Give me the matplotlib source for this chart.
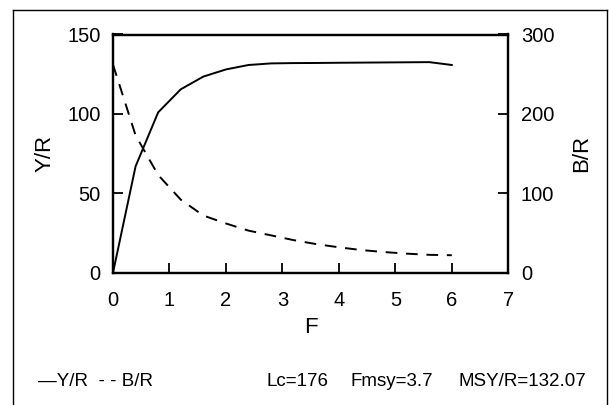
import matplotlib
matplotlib.use("Agg")
import matplotlib.pyplot as plt
from matplotlib.lines import Line2D

plt.rcParams['font.family'] = ['Liberation Sans', 'DejaVu Sans']

F = [0.0, 0.4, 0.8, 1.2, 1.6, 2.0, 2.4, 2.8, 3.2, 3.6, 4.0, 4.4, 4.8, 5.2, 5.6, 6.0]
YR = [0, 67, 101, 115.5, 123.5, 128, 130.8, 131.8, 132.0, 132.07, 132.2, 132.3, 132.4, 132.5, 132.6, 130.8]
BR = [262, 173, 123, 92, 72, 62, 53, 47, 41, 36, 32, 28.5, 26, 24, 22.5, 22]

x_ticks = [0, 1, 2, 3, 4, 5, 6, 7]
left_ticks = [0, 50, 100, 150]
right_ticks = [0, 100, 200, 300]

W, H = 609, 405
fig = plt.figure(figsize=(W / 100, H / 100), dpi=100)
L, R, T, B = 113, 508.3, 34.5, 272.7
ax = fig.add_axes([L / W, 1 - B / H, (R - L) / W, (B - T) / H])

ax.plot(F, YR, color='black', lw=1.4)
ax.set_xlim(0, 7)
ax.set_ylim(0, 150)
ax.set_xticks(x_ticks)
ax.set_yticks(left_ticks)

ax2 = ax.twinx()
ax2.plot(F, BR, color='black', lw=1.4, dashes=(6, 4.5))
ax2.set_ylim(0, 300)
ax2.set_yticks(right_ticks)

for a in (ax, ax2):
    for s in a.spines.values():
        s.set_linewidth(1.6)
ax.tick_params(axis='both', direction='in', length=7.5, width=1.3, labelsize=14.5)
ax.tick_params(axis='x', pad=13)
ax.tick_params(axis='y', pad=9)
ax2.tick_params(axis='y', direction='in', length=7.5, width=1.3, labelsize=14.5, pad=9)

ax.set_xlabel('F', fontsize=16, labelpad=5)
ax.set_ylabel('Y/R', fontsize=16, labelpad=8)
ax2.set_ylabel('B/R', fontsize=16, labelpad=12)

# bottom annotation line
fs = 13.5
fig.text(38 / W, 1 - 381 / H, '—Y/R  - - B/R', fontsize=fs, va='center', ha='left')
fig.text(266 / W, 1 - 381 / H, 'Lc=176', fontsize=fs, va='center', ha='left')
fig.text(350 / W, 1 - 381 / H, 'Fmsy=3.7', fontsize=fs, va='center', ha='left')
fig.text(458 / W, 1 - 381 / H, 'MSY/R=132.07', fontsize=fs, va='center', ha='left')

# outer frame (left, top, right)
xl, xr, yt = 13 / W, 607 / W, 1 - 9.5 / H
fig.add_artist(Line2D([xl, xl], [0, yt], color='black', lw=1.0, transform=fig.transFigure))
fig.add_artist(Line2D([xl, xr], [yt, yt], color='black', lw=1.0, transform=fig.transFigure))
fig.add_artist(Line2D([xr, xr], [0, yt], color='black', lw=1.0, transform=fig.transFigure))

fig.savefig('out.png', dpi=100)
